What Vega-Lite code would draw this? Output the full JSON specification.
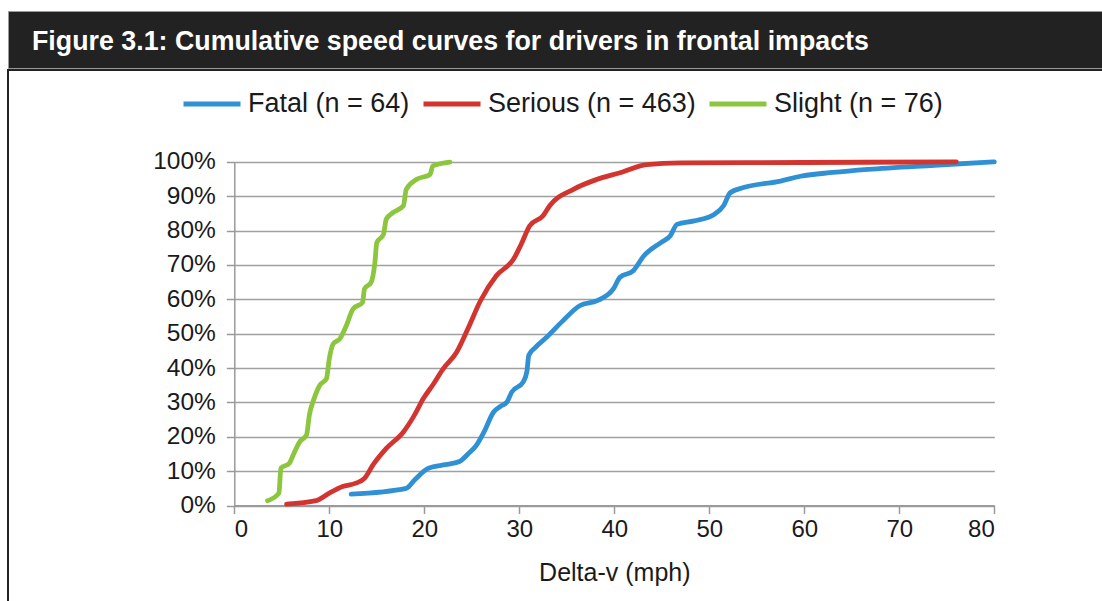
{
  "$schema": "https://vega.github.io/schema/vega-lite/v6.json",
  "background": "white",
  "padding": {"left": 7, "top": 10, "right": 0, "bottom": 0},
  "spacing": 0,
  "config": {"font": "Liberation Sans"},
  "resolve": {"legend": {"color": "independent"}, "scale": {"color": "independent"}},
  "datasets": {
    "curves": [
      {"series": "Fatal (n = 64)", "dv": 12.3, "pct": 3.3},
      {"series": "Fatal (n = 64)", "dv": 18.1, "pct": 5.0},
      {"series": "Fatal (n = 64)", "dv": 19.0, "pct": 7.5},
      {"series": "Fatal (n = 64)", "dv": 20.4, "pct": 10.8},
      {"series": "Fatal (n = 64)", "dv": 22.0, "pct": 11.8},
      {"series": "Fatal (n = 64)", "dv": 23.7, "pct": 12.8},
      {"series": "Fatal (n = 64)", "dv": 24.6, "pct": 15.0},
      {"series": "Fatal (n = 64)", "dv": 25.5, "pct": 17.6},
      {"series": "Fatal (n = 64)", "dv": 26.3, "pct": 21.5},
      {"series": "Fatal (n = 64)", "dv": 27.3, "pct": 27.2},
      {"series": "Fatal (n = 64)", "dv": 28.0, "pct": 28.8},
      {"series": "Fatal (n = 64)", "dv": 28.7, "pct": 30.1},
      {"series": "Fatal (n = 64)", "dv": 29.2, "pct": 33.0},
      {"series": "Fatal (n = 64)", "dv": 30.4, "pct": 35.9},
      {"series": "Fatal (n = 64)", "dv": 30.8, "pct": 39.0},
      {"series": "Fatal (n = 64)", "dv": 31.0, "pct": 43.7},
      {"series": "Fatal (n = 64)", "dv": 31.7, "pct": 46.0},
      {"series": "Fatal (n = 64)", "dv": 32.9, "pct": 49.0},
      {"series": "Fatal (n = 64)", "dv": 34.5, "pct": 53.5},
      {"series": "Fatal (n = 64)", "dv": 36.4, "pct": 58.2},
      {"series": "Fatal (n = 64)", "dv": 38.2, "pct": 59.6},
      {"series": "Fatal (n = 64)", "dv": 39.9, "pct": 63.0},
      {"series": "Fatal (n = 64)", "dv": 40.6, "pct": 66.4},
      {"series": "Fatal (n = 64)", "dv": 42.0, "pct": 68.3},
      {"series": "Fatal (n = 64)", "dv": 43.1, "pct": 72.6},
      {"series": "Fatal (n = 64)", "dv": 44.9, "pct": 76.5},
      {"series": "Fatal (n = 64)", "dv": 45.9, "pct": 78.5},
      {"series": "Fatal (n = 64)", "dv": 46.6, "pct": 81.8},
      {"series": "Fatal (n = 64)", "dv": 48.4, "pct": 82.8},
      {"series": "Fatal (n = 64)", "dv": 50.5, "pct": 84.7},
      {"series": "Fatal (n = 64)", "dv": 51.5, "pct": 87.2},
      {"series": "Fatal (n = 64)", "dv": 52.2, "pct": 91.0},
      {"series": "Fatal (n = 64)", "dv": 53.6, "pct": 92.5},
      {"series": "Fatal (n = 64)", "dv": 57.5, "pct": 94.4},
      {"series": "Fatal (n = 64)", "dv": 59.6, "pct": 95.8},
      {"series": "Fatal (n = 64)", "dv": 63.0, "pct": 96.9},
      {"series": "Fatal (n = 64)", "dv": 66.7, "pct": 97.8},
      {"series": "Fatal (n = 64)", "dv": 73.7, "pct": 99.0},
      {"series": "Fatal (n = 64)", "dv": 80.0, "pct": 100.0},
      {"series": "Serious (n = 463)", "dv": 5.5, "pct": 0.4},
      {"series": "Serious (n = 463)", "dv": 8.6, "pct": 1.4},
      {"series": "Serious (n = 463)", "dv": 10.0, "pct": 3.6},
      {"series": "Serious (n = 463)", "dv": 11.4, "pct": 5.5},
      {"series": "Serious (n = 463)", "dv": 12.8, "pct": 6.5},
      {"series": "Serious (n = 463)", "dv": 13.7, "pct": 7.9},
      {"series": "Serious (n = 463)", "dv": 14.6, "pct": 11.8},
      {"series": "Serious (n = 463)", "dv": 16.0, "pct": 16.6},
      {"series": "Serious (n = 463)", "dv": 17.8, "pct": 21.4},
      {"series": "Serious (n = 463)", "dv": 18.9, "pct": 26.0},
      {"series": "Serious (n = 463)", "dv": 19.9, "pct": 31.1},
      {"series": "Serious (n = 463)", "dv": 21.0, "pct": 35.5},
      {"series": "Serious (n = 463)", "dv": 22.0, "pct": 39.8},
      {"series": "Serious (n = 463)", "dv": 23.4, "pct": 44.6},
      {"series": "Serious (n = 463)", "dv": 24.6, "pct": 51.5},
      {"series": "Serious (n = 463)", "dv": 25.9, "pct": 59.5},
      {"series": "Serious (n = 463)", "dv": 27.6, "pct": 66.9},
      {"series": "Serious (n = 463)", "dv": 29.4, "pct": 71.7},
      {"series": "Serious (n = 463)", "dv": 30.2, "pct": 76.0},
      {"series": "Serious (n = 463)", "dv": 31.1, "pct": 81.4},
      {"series": "Serious (n = 463)", "dv": 32.5, "pct": 84.3},
      {"series": "Serious (n = 463)", "dv": 33.2, "pct": 87.2},
      {"series": "Serious (n = 463)", "dv": 35.7, "pct": 92.0},
      {"series": "Serious (n = 463)", "dv": 38.2, "pct": 94.9},
      {"series": "Serious (n = 463)", "dv": 40.6, "pct": 96.8},
      {"series": "Serious (n = 463)", "dv": 43.4, "pct": 99.2},
      {"series": "Serious (n = 463)", "dv": 47.0, "pct": 99.7},
      {"series": "Serious (n = 463)", "dv": 60.0, "pct": 99.8},
      {"series": "Serious (n = 463)", "dv": 76.0, "pct": 100.0},
      {"series": "Slight (n = 76)", "dv": 3.5, "pct": 1.4},
      {"series": "Slight (n = 76)", "dv": 4.7, "pct": 3.6},
      {"series": "Slight (n = 76)", "dv": 4.9, "pct": 10.8},
      {"series": "Slight (n = 76)", "dv": 5.8, "pct": 12.3},
      {"series": "Slight (n = 76)", "dv": 6.2, "pct": 14.7},
      {"series": "Slight (n = 76)", "dv": 6.9, "pct": 18.6},
      {"series": "Slight (n = 76)", "dv": 7.6, "pct": 20.5},
      {"series": "Slight (n = 76)", "dv": 7.9, "pct": 26.3},
      {"series": "Slight (n = 76)", "dv": 8.4, "pct": 31.1},
      {"series": "Slight (n = 76)", "dv": 9.0, "pct": 35.0},
      {"series": "Slight (n = 76)", "dv": 9.7, "pct": 36.9},
      {"series": "Slight (n = 76)", "dv": 10.0, "pct": 42.7},
      {"series": "Slight (n = 76)", "dv": 10.4, "pct": 47.0},
      {"series": "Slight (n = 76)", "dv": 11.1, "pct": 48.5},
      {"series": "Slight (n = 76)", "dv": 11.8, "pct": 52.4},
      {"series": "Slight (n = 76)", "dv": 12.5, "pct": 57.2},
      {"series": "Slight (n = 76)", "dv": 13.5, "pct": 59.1},
      {"series": "Slight (n = 76)", "dv": 13.7, "pct": 63.0},
      {"series": "Slight (n = 76)", "dv": 14.4, "pct": 64.9},
      {"series": "Slight (n = 76)", "dv": 14.8, "pct": 70.7},
      {"series": "Slight (n = 76)", "dv": 15.0, "pct": 76.5},
      {"series": "Slight (n = 76)", "dv": 15.7, "pct": 78.9},
      {"series": "Slight (n = 76)", "dv": 16.0, "pct": 83.3},
      {"series": "Slight (n = 76)", "dv": 16.7, "pct": 85.2},
      {"series": "Slight (n = 76)", "dv": 17.8, "pct": 87.2},
      {"series": "Slight (n = 76)", "dv": 18.1, "pct": 92.0},
      {"series": "Slight (n = 76)", "dv": 19.2, "pct": 94.9},
      {"series": "Slight (n = 76)", "dv": 20.6, "pct": 96.3},
      {"series": "Slight (n = 76)", "dv": 20.9, "pct": 98.8},
      {"series": "Slight (n = 76)", "dv": 22.7, "pct": 99.9}
    ]
  },
  "vconcat": [
    {
      "width": 1096,
      "height": 57,
      "view": {"fill": "#222222", "stroke": "#999999", "strokeWidth": 1},
      "title": {
        "text": "Figure 3.1:  Cumulative speed curves for drivers in frontal impacts",
        "frame": "group",
        "anchor": "start",
        "orient": "top",
        "color": "white",
        "font": "Liberation Sans",
        "fontSize": 26.8,
        "fontWeight": "bold",
        "baseline": "middle",
        "offset": -57.5,
        "dx": 24
      },
      "data": {"values": [{"k": 1}]},
      "mark": {"type": "point", "opacity": 0},
      "encoding": {}
    },
    {
      "width": 1096,
      "height": 545,
      "view": {"fill": "white", "stroke": "#222222", "strokeWidth": 2},
      "data": {"name": "curves"},
      "mark": {"type": "line", "strokeWidth": 4.8, "interpolate": "monotone", "strokeCap": "round", "strokeJoin": "round"},
      "encoding": {
        "x": {
          "field": "dv", "type": "quantitative",
          "scale": {"domain": [0, 80], "range": [226.3, 986.3], "nice": false},
          "axis": {
            "title": "Delta-v (mph)",
            "values": [0, 10, 20, 30, 40, 50, 60, 70, 80],
            "offset": -109.5,
            "grid": false,
            "domainColor": "#9a9a9a", "domainWidth": 2,
            "tickColor": "#9a9a9a", "tickWidth": 1.5, "tickSize": 8,
            "labelFontSize": 24, "labelColor": "#1a1a1a", "labelPadding": 4,
            "labelFont": "Liberation Sans",
            "titleFontSize": 25, "titleFontWeight": "normal", "titleColor": "#1a1a1a",
            "titleFont": "Liberation Sans", "titlePadding": 19
          }
        },
        "y": {
          "field": "pct", "type": "quantitative",
          "scale": {"domain": [0, 100], "range": [435.5, 91.8], "nice": false},
          "axis": {
            "title": null,
            "values": [0, 10, 20, 30, 40, 50, 60, 70, 80, 90, 100],
            "labelExpr": "datum.value + '%'",
            "offset": -226.3,
            "grid": true, "gridColor": "#a0a0a0", "gridWidth": 1.5,
            "domainColor": "#9a9a9a", "domainWidth": 1.5,
            "tickColor": "#9a9a9a", "tickWidth": 1.5, "tickSize": 8,
            "labelFontSize": 24.5, "labelColor": "#1a1a1a", "labelPadding": 11,
            "labelFont": "Liberation Sans"
          }
        },
        "color": {
          "field": "series", "type": "nominal",
          "scale": {
            "domain": ["Fatal (n = 64)", "Serious (n = 463)", "Slight (n = 76)"],
            "range": ["#3090d4", "#d2352f", "#8cc63f"]
          },
          "legend": {
            "title": null,
            "orient": "none",
            "legendX": 173,
            "legendY": 3,
            "direction": "horizontal",
            "symbolType": "stroke",
            "symbolSize": 3249,
            "symbolStrokeWidth": 5,
            "labelFontSize": 27,
            "labelFont": "Liberation Sans",
            "labelColor": "#1a1a1a",
            "labelOffset": 5,
            "columnPadding": 3,
            "labelLimit": 400
          }
        }
      }
    }
  ]
}
